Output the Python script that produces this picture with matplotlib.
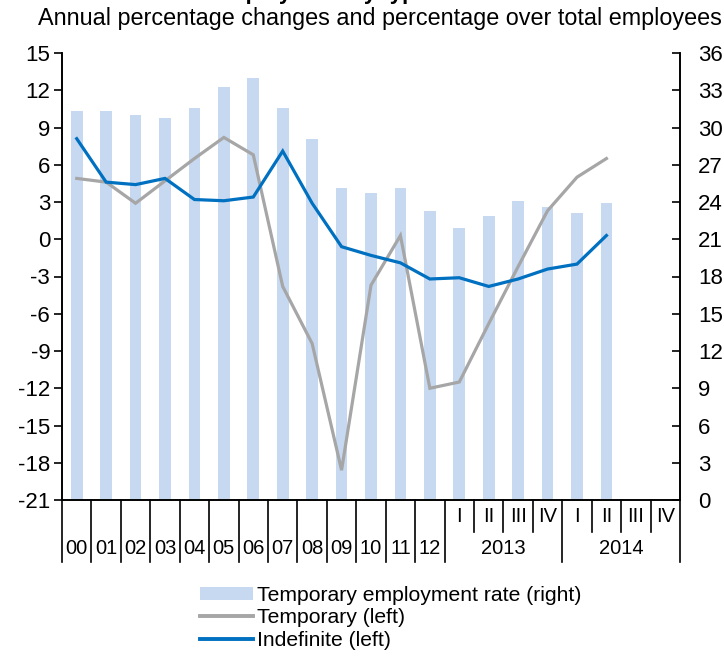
import matplotlib
matplotlib.use("Agg")
import matplotlib.pyplot as plt
from matplotlib.lines import Line2D
from matplotlib.patches import Patch
from matplotlib.transforms import blended_transform_factory

plt.rcParams['font.family'] = ['Liberation Sans', 'DejaVu Sans']
plt.rcParams['axes.unicode_minus'] = False

# Periods: annual 2000-2012, then quarters of 2013 and 2014
years = ['00', '01', '02', '03', '04', '05', '06', '07', '08', '09', '10', '11', '12']
quarters = ['I', 'II', 'III', 'IV']
quarter_years = ['2013', '2014']

# Temporary employment rate, % of employees (right axis)
temp_rate = [31.3, 31.3, 31.0, 30.8, 31.6, 33.3, 34.0, 31.6, 29.1, 25.1, 24.7, 25.1, 23.3,
             21.9, 22.9, 24.1, 23.6, 23.1, 23.9]
# Annual % changes (left axis)
temporary = [4.9, 4.6, 2.9, 4.7, 6.5, 8.2, 6.8, -3.8, -8.4, -18.6, -3.7, 0.3, -12.0,
             -11.5, -6.8, -2.2, 2.3, 5.0, 6.5]
indefinite = [8.1, 4.6, 4.4, 4.9, 3.2, 3.1, 3.4, 7.1, 2.9, -0.6, -1.3, -1.9, -3.2,
              -3.1, -3.8, -3.2, -2.4, -2.0, 0.3]

n_slots = len(years) + len(quarters) * len(quarter_years)
pos = [i + 0.5 for i in range(len(temp_rate))]

fig = plt.figure(figsize=(7.24, 6.57), dpi=100)
ax = fig.add_axes([62 / 724, 1 - 500 / 657, (680 - 62) / 724, (500 - 53) / 657])
ax_r = ax.twinx()

# Bars on the right axis, behind the lines
ax_r.bar(pos, temp_rate, width=0.4, color='#C6D9F1', zorder=1)
ax.plot(pos, temporary, color='#A6A6A6', lw=2.3, solid_joinstyle='miter')
ax.plot(pos, indefinite, color='#0070C0', lw=2.3, solid_joinstyle='miter')
ax.set_zorder(ax_r.get_zorder() + 1)
ax.patch.set_visible(False)

ax.set_xlim(0, n_slots)
ax.set_ylim(-21, 15)
ax.set_yticks(range(-21, 16, 3))
ax_r.set_ylim(0, 36)
ax_r.set_yticks(range(0, 37, 3))
ax.set_xticks([])

for a in (ax, ax_r):
    a.spines['top'].set_visible(False)
    for s in a.spines.values():
        s.set_linewidth(1.2)
ax.tick_params(axis='y', direction='out', length=5.5, width=1.2, labelsize=16, pad=3)
ax_r.tick_params(axis='y', direction='in', length=5.5, width=1.2, labelsize=16, pad=13)

# Two-level category axis
trans = blended_transform_factory(ax.transData, ax.transAxes)
long_y = -62 / 447
short_y = -32 / 447
for i, lab in enumerate(years):
    ax.text(i + 0.5, -48 / 447, lab, transform=trans, ha='center', va='center', fontsize=14.5)
    ax.plot([i, i], [0, long_y], transform=trans, color='black', lw=1.2, clip_on=False)
start = len(years)
for k, yr in enumerate(quarter_years):
    base = start + k * len(quarters)
    ax.plot([base, base], [0, long_y], transform=trans, color='black', lw=1.2, clip_on=False)
    for j, q in enumerate(quarters):
        ax.text(base + j + 0.5, -17 / 447, q, transform=trans, ha='center', va='center',
                fontsize=14.5)
        if j > 0:
            ax.plot([base + j, base + j], [0, short_y], transform=trans, color='black',
                    lw=1.2, clip_on=False)
    ax.text(base + len(quarters) / 2, -48 / 447, yr, transform=trans, ha='center',
            va='center', fontsize=14.5)
ax.plot([n_slots, n_slots], [0, long_y], transform=trans, color='black', lw=1.2, clip_on=False)

# Titles (main title sits mostly above the top edge, as in the original)
fig.text(380 / 724, 1 + 1 / 657, 'Employment by type of contract', ha='center',
         va='baseline', fontsize=16, weight='bold')
fig.text(380 / 724, 1 - 19 / 657, 'Annual percentage changes and percentage over total employees',
         ha='center', va='center', fontsize=16.8)

handles = [Patch(facecolor='#C6D9F1', edgecolor='none'),
           Line2D([], [], color='#A6A6A6', lw=2.8),
           Line2D([], [], color='#0070C0', lw=2.8)]
labels = ['Temporary employment rate (right)', 'Temporary (left)', 'Indefinite (left)']
fig.legend(handles, labels, loc='upper left', bbox_to_anchor=(200 / 724, 1 - 586 / 657),
           frameon=False, fontsize=15.2, handlelength=2.5, handleheight=0.6,
           handletextpad=0.22, labelspacing=0.16, borderpad=0, borderaxespad=0)

fig.savefig('out.png', dpi=100)
